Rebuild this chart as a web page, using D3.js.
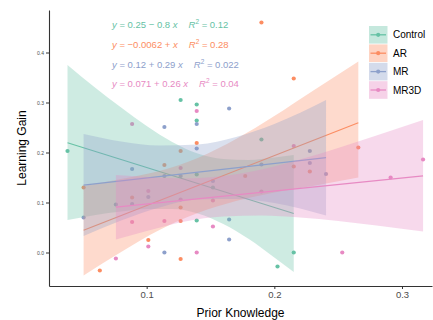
<!DOCTYPE html>
<html>
<head>
<meta charset="utf-8">
<script src="https://cdn.jsdelivr.net/npm/d3@7"></script>
<style>
  body { margin: 0; background: #fff; }
  svg { display: block; font-family: "Liberation Sans", Arial, sans-serif; }
</style>
</head>
<body>
<svg width="433" height="320"></svg>
<script>
'use strict';
/* learning gain vs prior knowledge, one linear fit per condition */

const groups = ['Control', 'AR', 'MR', 'MR3D'];
const groupColors = ['#66C2A5', '#FC8D62', '#8DA0CB', '#E78AC3'];

// observed points, [prior knowledge, learning gain]
const controlPts = [[0.0380, 0.203], [0.1266, 0.305], [0.1392, 0.296], [0.1392, 0.264],
	[0.1899, 0.226], [0.1392, 0.156], [0.1519, 0.130], [0.1392, 0.064],
	[0.2025, -0.028], [0.2152, 0.000]];
const arPts = [[0.0506, 0.130], [0.1139, 0.175], [0.1266, 0.203], [0.1392, 0.219],
	[0.0886, 0.110], [0.1013, 0.025], [0.1266, 0.090], [0.1266, 0.063],
	[0.1266, -0.013], [0.0633, -0.036], [0.1772, 0.153], [0.1899, 0.460],
	[0.2152, 0.348], [0.2152, 0.172], [0.2278, 0.162], [0.2658, 0.210]];
const mrPts = [[0.0506, 0.070], [0.0886, 0.167], [0.1139, 0.251], [0.1392, 0.257],
	[0.1392, 0.208], [0.1646, 0.288], [0.0759, 0.096], [0.0886, 0.097],
	[0.1013, 0.111], [0.1139, 0.153], [0.1266, 0.153], [0.1139, 0.000],
	[0.1519, 0.143], [0.1646, 0.066], [0.1646, 0.026], [0.1899, 0.176],
	[0.2278, 0.203], [0.2278, 0.179], [0.2405, 0.157]];
const mr3dPts = [[0.0886, 0.257], [0.1392, 0.283], [0.1266, 0.169], [0.1013, 0.123],
	[0.0886, 0.061], [0.1013, 0.012], [0.0759, -0.012], [0.1139, 0.063],
	[0.1266, 0.106], [0.1519, 0.104], [0.1519, 0.052], [0.1392, 0.000],
	[0.2532, 0.000], [0.1899, 0.122], [0.2152, 0.213], [0.2911, 0.150],
	[0.3165, 0.186]];
const allPts = [controlPts, arPts, mrPts, mr3dPts];

// fitted lines (as printed on the chart)
const intercepts = [0.25, -0.0062, 0.12, 0.071];
const slopes = [-0.8, 1, 0.29, 0.26];
const eqMiddle = [' = 0.25 \u2212 0.8 ', ' = \u22120.0062 + ', ' = 0.12 + 0.29 ', ' = 0.071 + 0.26 '];
const r2Labels = ['0.12', '0.28', '0.022', '0.04'];

// confidence bands
const controlBand = {
	x:  [0.0380, 0.06, 0.08, 0.10, 0.12, 0.14, 0.16, 0.18, 0.20, 0.2152],
	lo: [0.065, 0.075, 0.082, 0.087, 0.087, 0.078, 0.057, 0.027, -0.010, -0.039],
	hi: [0.375, 0.329, 0.290, 0.253, 0.221, 0.198, 0.187, 0.185, 0.190, 0.195]
};
const arBand = {
	x:  [0.0506, 0.08, 0.11, 0.14, 0.17, 0.20, 0.23, 0.2658],
	lo: [-0.046, 0.001, 0.045, 0.079, 0.103, 0.120, 0.133, 0.150],
	hi: [0.133, 0.147, 0.163, 0.189, 0.227, 0.273, 0.323, 0.382]
};
const mrBand = {
	x:  [0.0506, 0.08, 0.11, 0.14, 0.17, 0.20, 0.2405],
	lo: [0.033, 0.064, 0.090, 0.106, 0.107, 0.099, 0.074],
	hi: [0.237, 0.222, 0.214, 0.216, 0.231, 0.257, 0.305]
};
const mr3dBand = {
	x:  [0.0759, 0.10, 0.13, 0.16, 0.19, 0.22, 0.25, 0.28, 0.3165],
	lo: [0.026, 0.043, 0.062, 0.072, 0.074, 0.070, 0.063, 0.054, 0.042],
	hi: [0.155, 0.151, 0.148, 0.153, 0.166, 0.186, 0.209, 0.234, 0.265]
};
const bands = [controlBand, arBand, mrBand, mr3dBand];

const xTicks = [0.1, 0.2, 0.3];
const yTicks = [0.0, 0.1, 0.2, 0.3, 0.4];

/**************************************************************************/

var svg = d3.select('svg');

var x = d3.scaleLinear().domain([0.0235, 0.3235]).range([49, 432]);
var y = d3.scaleLinear().domain([-0.067, 0.485]).range([286, 10]);

// points go first, the ribbons are drawn over them
allPts.forEach(function (pts, g) {
	svg.append('g').selectAll('circle')
		.data(pts)
		.enter()
		.append('circle')
			.attr('cx', d => x(d[0]))
			.attr('cy', d => y(d[1]))
			.attr('r', 2.1)
			.style('fill', groupColors[g]);
});

var area = d3.area()
	.x(d => x(d.x))
	.y0(d => y(d.lo))
	.y1(d => y(d.hi))
	.curve(d3.curveMonotoneX);

// ribbon then line, group after group
bands.forEach(function (b, g) {
	var rows = b.x.map((v, i) => ({ x: v, lo: b.lo[i], hi: b.hi[i] }));
	svg.append('path')
		.datum(rows)
		.attr('d', area)
		.style('fill', groupColors[g])
		.style('fill-opacity', 0.32);

	var x0 = b.x[0], x1 = b.x[b.x.length - 1];
	svg.append('line')
		.attr('x1', x(x0))
		.attr('y1', y(intercepts[g] + slopes[g] * x0))
		.attr('x2', x(x1))
		.attr('y2', y(intercepts[g] + slopes[g] * x1))
		.style('stroke', groupColors[g])
		.style('stroke-width', 1.1);
});

// axes
var xAxis = svg.append('g')
	.attr('transform', 'translate(0,286)')
	.call(d3.axisBottom(x).tickValues(xTicks).tickFormat(d3.format('.1f')).tickSize(3).tickSizeOuter(0));
xAxis.select('.domain').style('stroke', '#333').style('stroke-width', 1.1);
xAxis.selectAll('.tick line').style('stroke', '#333');
xAxis.selectAll('.tick text')
	.attr('y', 5)
	.style('font-family', '"Liberation Sans", Arial, sans-serif')
	.style('font-size', '9.5px')
	.style('fill', '#4d4d4d');

var yAxis = svg.append('g')
	.attr('transform', 'translate(49,0)')
	.call(d3.axisLeft(y).tickValues(yTicks).tickFormat(d3.format('.1f')).tickSize(3).tickSizeOuter(0));
yAxis.select('.domain').style('stroke', '#333').style('stroke-width', 1.1);
yAxis.selectAll('.tick line').style('stroke', '#333');
yAxis.selectAll('.tick text')
	.attr('x', -5)
	.style('font-family', '"Liberation Sans", Arial, sans-serif')
	.style('font-size', '5px')
	.style('fill', '#4d4d4d');

svg.append('text')
	.attr('x', 240.5)
	.attr('y', 317)
	.attr('text-anchor', 'middle')
	.style('font-size', '12px')
	.text('Prior Knowledge');

svg.append('text')
	.attr('transform', 'translate(26,148) rotate(-90)')
	.attr('text-anchor', 'middle')
	.style('font-size', '12px')
	.text('Learning Gain');

// fit equations, one line per group
groups.forEach(function (name, g) {
	var base = 28 + g * 19.8;
	var eq = svg.append('text')
		.attr('x', 112)
		.attr('y', base)
		.style('font-size', '9.5px')
		.style('fill', groupColors[g]);
	eq.append('tspan').style('font-style', 'italic').text('y');
	eq.append('tspan').text(eqMiddle[g]);
	eq.append('tspan').style('font-style', 'italic').text('x');
	var w = eq.node().getComputedTextLength();

	var rr = svg.append('text')
		.attr('x', 112 + w + 11)
		.attr('y', base)
		.style('font-size', '9.5px')
		.style('fill', groupColors[g]);
	rr.append('tspan').style('font-style', 'italic').text('R');
	rr.append('tspan').attr('dy', -4).style('font-size', '6.5px').text('2');
	rr.append('tspan').attr('dy', 4).text(' = ' + r2Labels[g]);
});

// legend inside the panel
var legend = svg.append('g').attr('transform', 'translate(369,26)');
groups.forEach(function (name, g) {
	var k = legend.append('g').attr('transform', 'translate(0,' + (g * 18.4) + ')');
	k.append('rect')
		.attr('width', 18.5)
		.attr('height', 17.6)
		.style('fill', groupColors[g])
		.style('fill-opacity', 0.38);
	k.append('line')
		.attr('x1', 1.5).attr('x2', 17)
		.attr('y1', 8.8).attr('y2', 8.8)
		.style('stroke', groupColors[g])
		.style('stroke-width', 1.3);
	k.append('circle')
		.attr('cx', 9.2).attr('cy', 8.8).attr('r', 2.1)
		.style('fill', groupColors[g]);
	k.append('text')
		.attr('x', 24)
		.attr('y', 12.4)
		.style('font-size', '10px')
		.text(name);
});
</script>
</body>
</html>
